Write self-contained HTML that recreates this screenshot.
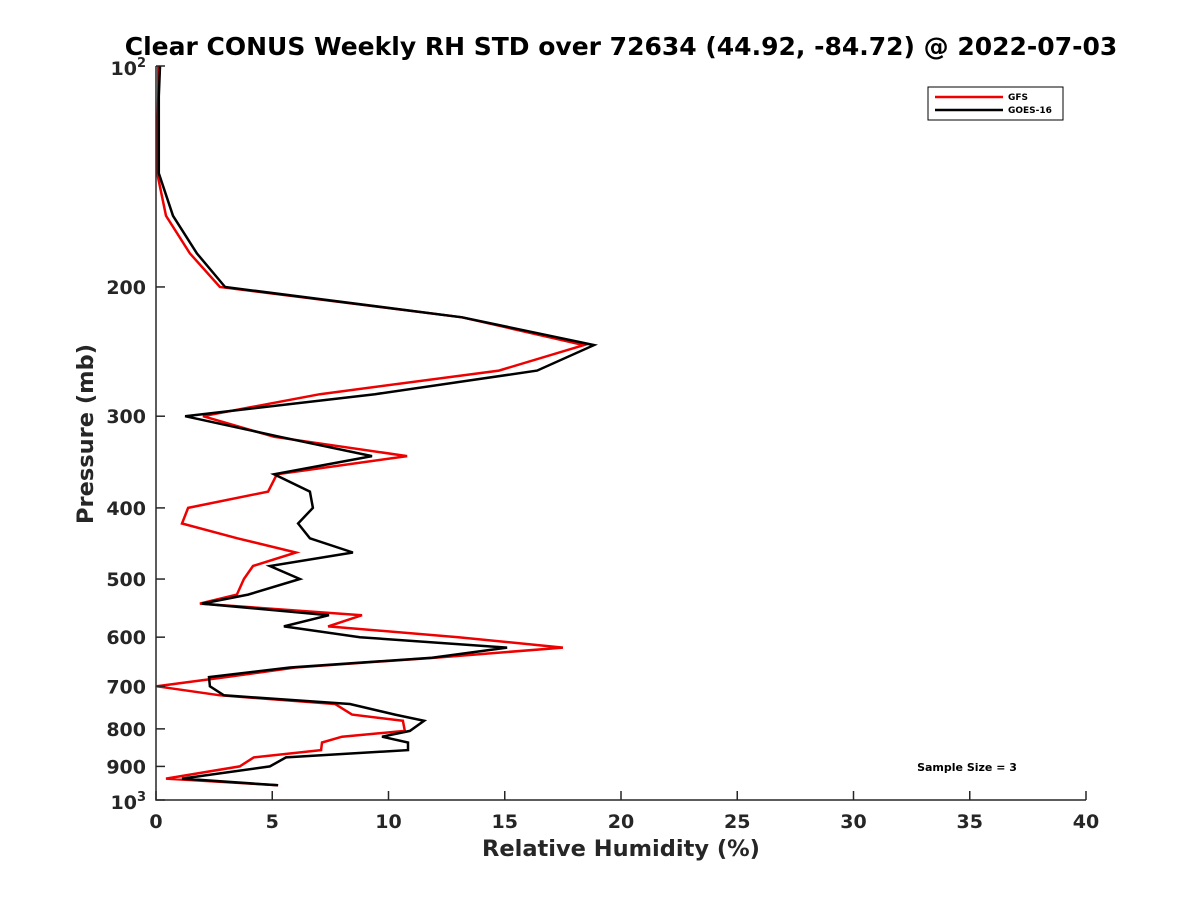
<!DOCTYPE html>
<html><head><meta charset="utf-8"><style>
body{margin:0;background:#fff}
svg{font-family:"DejaVu Sans","Liberation Sans",sans-serif}
</style></head><body>
<svg id="chart" width="1200" height="900" xmlns="http://www.w3.org/2000/svg">
<rect width="1200" height="900" fill="#fff"/>
<text x="621" y="55" text-anchor="middle" font-size="25" font-weight="bold" fill="#000">Clear CONUS Weekly RH STD over 72634 (44.92, -84.72) @ 2022-07-03</text>
<g id="marks"></g>
<g id="axes"></g>
<g>
<rect x="928" y="87" width="135" height="33" fill="#fff" stroke="#000" stroke-width="1"/>
<line x1="935" y1="97" x2="1003" y2="97" stroke="#e00" stroke-width="2.5"/>
<text x="1008" y="100" font-size="9" font-weight="bold">GFS</text>
<line x1="935" y1="110" x2="1003" y2="110" stroke="#000" stroke-width="2.5"/>
<text x="1008" y="113" font-size="9" font-weight="bold">GOES-16</text>
</g>
<text x="967" y="771" text-anchor="middle" font-size="11" font-weight="bold">Sample Size = 3</text>
<text x="621" y="856" text-anchor="middle" font-size="22.5" font-weight="bold" fill="#262626">Relative Humidity (%)</text>
<text transform="translate(93,434) rotate(-90)" text-anchor="middle" font-size="22.5" font-weight="bold" fill="#262626">Pressure (mb)</text>
</svg>
<script>
const pressures=[100,110,125,140,160,180,200,220,240,260,280,300,320,340,360,380,400,420,440,460,480,500,525,540,560,580,600,620,640,660,680,700,720,740,765,780,805,820,835,855,875,900,935,955];
const gfsValues=[0.1,0.1,0.05,0.05,0.43,1.46,2.75,13.16,18.41,14.75,7.05,2.02,5.08,10.8,5.2,4.82,1.38,1.12,3.5,6.02,4.17,3.78,3.48,1.89,8.86,7.4,13,17.5,12.0,6.0,3.0,0.04,2.75,7.7,8.43,10.62,10.7,8.0,7.14,7.1,4.2,3.6,0.43,5.25];
const goesValues=[0.17,0.12,0.12,0.12,0.73,1.76,2.97,13.16,18.84,16.39,9.42,1.25,5.33,9.29,5.08,6.62,6.75,6.11,6.62,8.47,4.9,6.19,3.96,1.98,7.44,5.5,8.77,15.1,11.87,5.76,2.28,2.32,2.92,8.34,10.28,11.53,10.92,9.72,10.84,10.84,5.59,4.9,1.12,5.25];
const xTicks=[0,5,10,15,20,25,30,35,40];
const yTicks=[200,300,400,500,600,700,800,900];
const NS="http://www.w3.org/2000/svg";
const X0=156,X1=1086,Y0=66,Y1=800;
function xs(v){return X0+(v/40)*(X1-X0);}
function ys(p){return Y0+Math.log10(p/100)*(Y1-Y0);}
function mk(t,a,parent){const e=document.createElementNS(NS,t);for(const k in a)e.setAttribute(k,a[k]);parent.appendChild(e);return e;}
const marks=document.getElementById('marks'),axes=document.getElementById('axes');
function series(vals,color,name){
  const pts=vals.map((v,i)=>xs(v).toFixed(1)+','+ys(pressures[i]).toFixed(1)).join(' ');
  const pl=mk('polyline',{points:pts,fill:'none',stroke:color,'stroke-width':2.5,'stroke-linejoin':'miter'},marks);
  
  
}
series(gfsValues,'#e00','gfs-line');
series(goesValues,'#000','goes16-line');
const ax=mk('path',{d:`M${X0},${Y0}V${Y1}H${X1}`,fill:'none',stroke:'#262626','stroke-width':1.5},axes);


xTicks.forEach(v=>{
  const x=xs(v);
  const t=mk('line',{x1:x,y1:Y1,x2:x,y2:Y1-9,stroke:'#262626','stroke-width':1.5},axes);
  
  
  const l=mk('text',{x:x,y:828,'text-anchor':'middle','font-size':19,'font-weight':'bold',fill:'#262626'},axes);
  l.textContent=v;
  
  
});
yTicks.concat([100,1000]).forEach(p=>{
  const y=ys(p);
  const t=mk('line',{x1:X0,y1:y,x2:X0+9,y2:y,stroke:'#262626','stroke-width':1.5},axes);
  
  
});
yTicks.forEach(p=>{
  const l=mk('text',{x:146,y:ys(p)+7,'text-anchor':'end','font-size':19,'font-weight':'bold',fill:'#262626'},axes);
  l.textContent=p;
  
  
});
[[100,'2'],[1000,'3']].forEach(([p,e])=>{
  const l=mk('text',{x:146,y:ys(p)+9,'text-anchor':'end','font-size':19,'font-weight':'bold',fill:'#262626'},axes);
  l.innerHTML='10<tspan dy="-8" font-size="13">'+e+'</tspan>';
  
  
});
</script>
</body></html>
